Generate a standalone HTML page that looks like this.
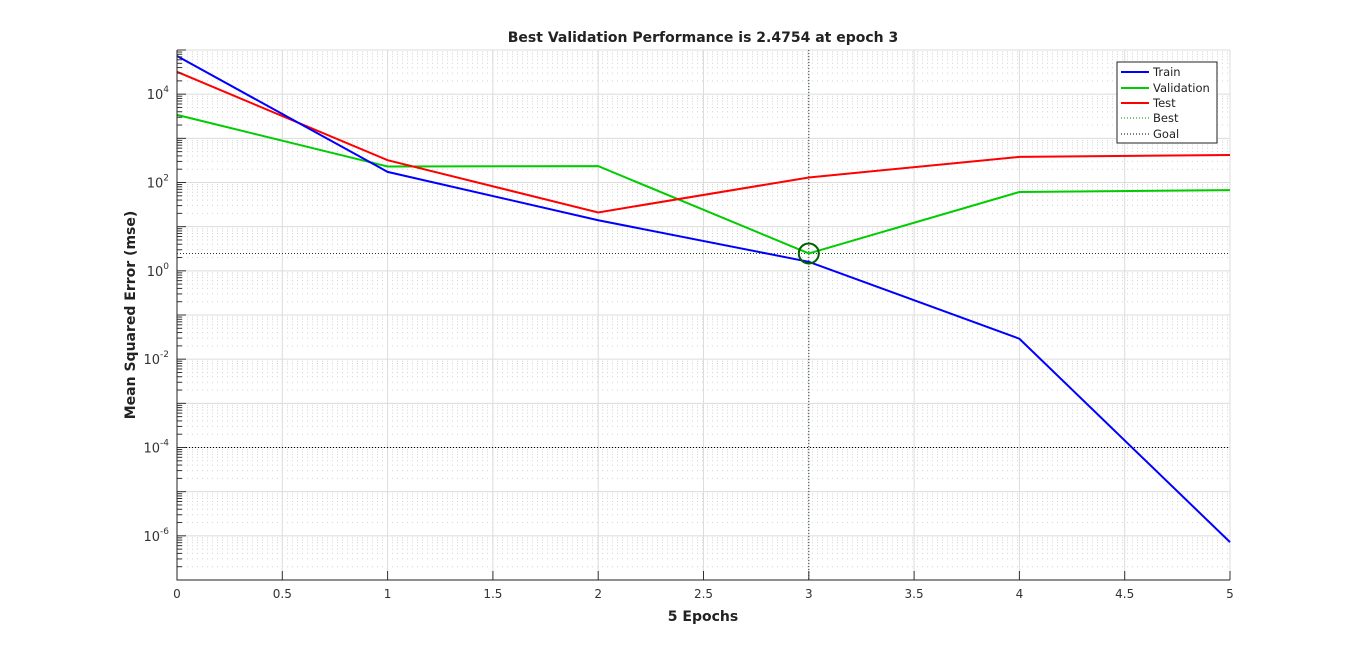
<!DOCTYPE html>
<html><head><meta charset="utf-8"><style>
body{margin:0;background:#fff;}
svg{display:block;font-family:"DejaVu Sans","Liberation Sans",sans-serif;}
</style></head><body>
<svg id="chart" width="1360" height="654">
<rect width="1360" height="654" fill="#fff"/>
<g id="grid"></g>
<g id="marks"></g>
<g id="axes"></g>
<text x="703" y="42" text-anchor="middle" font-size="14" font-weight="bold" fill="#222">Best Validation Performance is 2.4754 at epoch 3</text>
<text x="703" y="621" text-anchor="middle" font-size="14" font-weight="bold" fill="#222">5 Epochs</text>
<text transform="translate(135,315) rotate(-90)" text-anchor="middle" font-size="14" font-weight="bold" fill="#222">Mean Squared Error  (mse)</text>
<g>
<rect x="1117" y="62" width="100" height="81" fill="#fff" stroke="#222" stroke-width="1"/>
<line x1="1121" y1="72" x2="1149" y2="72" stroke="#0000ff" stroke-width="2"/>
<text x="1153" y="76" font-size="11.5" fill="#222">Train</text>
<line x1="1121" y1="88" x2="1149" y2="88" stroke="#00cc00" stroke-width="2"/>
<text x="1153" y="92" font-size="11.5" fill="#222">Validation</text>
<line x1="1121" y1="103" x2="1149" y2="103" stroke="#ff0000" stroke-width="2"/>
<text x="1153" y="107" font-size="11.5" fill="#222">Test</text>
<line x1="1121" y1="118" x2="1149" y2="118" stroke="#008000" stroke-width="1" stroke-dasharray="1,2"/>
<text x="1153" y="122" font-size="11.5" fill="#222">Best</text>
<line x1="1121" y1="134" x2="1149" y2="134" stroke="#000" stroke-width="1" stroke-dasharray="1,2"/>
<text x="1153" y="138" font-size="11.5" fill="#222">Goal</text>
</g>
</svg>
<script>
const epochs=[0,1,2,3,4,5];
const train=[7.3e4,174,14,1.6,0.029,7.2e-7];
const validation=[3400,230,235,2.4754,61,67];
const test=[3.2e4,320,21,130,380,420];
const bestEpoch=3;
const bestValue=2.4754;
const goal=1e-4;
const xTicks=[0,0.5,1,1.5,2,2.5,3,3.5,4,4.5,5];
const yExps=[-6,-4,-2,0,2,4];

const X0=177,X1=1230,Y0=50,Y1=580,LMIN=-7,LMAX=5;
const sx=v=>X0+(v-0)/5*(X1-X0);
const sy=v=>Y0+(LMAX-Math.log10(v))/(LMAX-LMIN)*(Y1-Y0);
const NS='http://www.w3.org/2000/svg';
function mk(tag,attrs,parent){const e=document.createElementNS(NS,tag);for(const k in attrs)e.setAttribute(k,attrs[k]);parent.appendChild(e);return e;}
const grid=document.getElementById('grid'),marks=document.getElementById('marks'),axes=document.getElementById('axes');
for(let d=LMIN;d<LMAX;d++){for(let m=2;m<=9;m++){const y=sy(m*Math.pow(10,d));
const l=mk('line',{x1:X0,x2:X1,y1:y,y2:y,stroke:'#d4d4d4','stroke-width':1,'stroke-dasharray':'1,4'},grid);


const t=mk('line',{x1:X0,x2:X0+5,y1:y,y2:y,stroke:'#333','stroke-width':1},axes);

}}
for(let d=LMIN;d<=LMAX;d++){const y=sy(Math.pow(10,d));
const l=mk('line',{x1:X0,x2:X1,y1:y,y2:y,stroke:'#dcdcdc','stroke-width':1},grid);


const t=mk('line',{x1:X0,x2:X0+9,y1:y,y2:y,stroke:'#333','stroke-width':1},axes);

}
xTicks.forEach(v=>{const x=sx(v);
const l=mk('line',{x1:x,x2:x,y1:Y0,y2:Y1,stroke:'#dcdcdc','stroke-width':1},grid);


const t=mk('line',{x1:x,x2:x,y1:Y1,y2:Y1-9,stroke:'#333','stroke-width':1},axes);


const tx=mk('text',{x:x,y:Y1+18,'text-anchor':'middle','font-size':12,fill:'#333'},axes);
tx.textContent=String(v);

});
yExps.forEach(e=>{const y=sy(Math.pow(10,e));
const tx=mk('text',{x:X0-8,y:y+5,'text-anchor':'end','font-size':13,fill:'#333'},axes);
tx.innerHTML='10<tspan dy="-7" font-size="9">'+e+'</tspan>';

});
const ax=mk('path',{d:`M${X0},${Y0}V${Y1}H${X1}`,fill:'none',stroke:'#222','stroke-width':1},axes);


const g=mk('line',{x1:X0,x2:X1,y1:sy(goal),y2:sy(goal),stroke:'#000','stroke-width':1,'stroke-dasharray':'1,2'},marks);


const bv=mk('line',{x1:sx(bestEpoch),x2:sx(bestEpoch),y1:Y0,y2:Y1,stroke:'#204020','stroke-width':1,'stroke-dasharray':'1,2'},marks);


const bh=mk('line',{x1:X0,x2:X1,y1:sy(bestValue),y2:sy(bestValue),stroke:'#204020','stroke-width':1,'stroke-dasharray':'1,2'},marks);


function series(vals,color,name){
const p=mk('polyline',{points:epochs.map((e,i)=>sx(e)+','+sy(vals[i])).join(' '),fill:'none',stroke:color,'stroke-width':2},marks);

}
series(validation,'#00cc00','validation-line');
series(test,'#ff0000','test-line');
series(train,'#0000ff','train-line');
const c=mk('circle',{cx:sx(bestEpoch),cy:sy(bestValue),r:10,fill:'none',stroke:'#006000','stroke-width':2},marks);


</script>
</body></html>
